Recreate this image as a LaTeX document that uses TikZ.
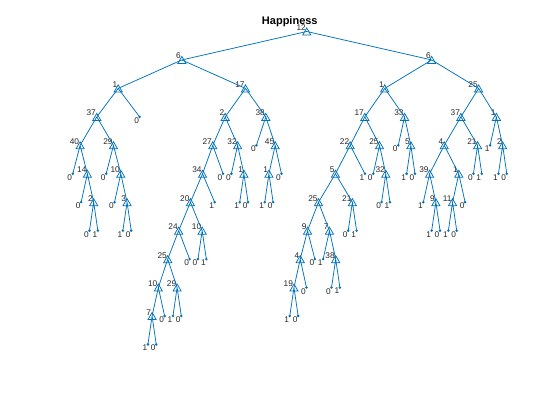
\documentclass[tikz,border=0pt]{standalone}
\usepackage{fontspec}
\setmainfont{Liberation Sans}
\usetikzlibrary{shapes.geometric}
\definecolor{mblue}{rgb}{0,0.447,0.741}
\definecolor{labc}{rgb}{0.15,0.15,0.15}
\tikzset{
 edge/.style={draw=mblue, line width=0.75pt},
 trimark/.style={draw=mblue, line width=0.75pt, regular polygon, regular polygon sides=3, minimum size=9.4pt, inner sep=0pt, yshift=-1.175pt},
 leafdot/.style={fill=mblue, circle, inner sep=0pt, minimum size=2.8pt},
 ilab/.style={anchor=south east, inner sep=0.8pt, text=labc, font=\fontsize{8.3}{9}\selectfont},
 llab/.style={anchor=north east, inner sep=0.5pt, text=labc, font=\fontsize{8.3}{9}\selectfont},
 ttl/.style={font=\bfseries\fontsize{11}{13}\selectfont, text=black, inner sep=0pt},
}
\newcommand\TreeI[4]{\coordinate (#1) at (#2,#3); \node[trimark] at (#1) {}; \node[ilab] at (#1) {#4};}
\newcommand\TreeL[4]{\coordinate (#1) at (#2,#3); \node[leafdot] at (#1) {}; \node[llab] at (#1) {#4};}
\begin{document}
\begin{tikzpicture}[x=8.34615pt, y=-28.45pt]
\useasboundingbox (-8.7226,-1.10721) rectangle (58.3742,13.6555);
\node[ttl] (title) at (26.0,-0.3445) {Happiness};
% internal nodes
\TreeI{r}{28.0317}{0}{12}
\TreeI{n6a}{13.0654}{1}{6}
\TreeI{n6b}{42.9980}{1}{6}
\TreeI{n1a}{5.4375}{2}{1}
\TreeI{n17a}{20.6934}{2}{17}
\TreeI{n1d}{37.3711}{2}{1}
\TreeI{n25d}{48.625}{2}{25}
\TreeI{n37a}{2.875}{3}{37}
\TreeI{n2b}{18.2617}{3}{2}
\TreeI{n38a}{23.125}{3}{38}
\TreeI{n17b}{34.9922}{3}{17}
\TreeI{n33}{39.75}{3}{33}
\TreeI{n37b}{46.5}{3}{37}
\TreeI{n1f}{50.75}{3}{1}
\TreeI{n40}{0.875}{4}{40}
\TreeI{n29a}{4.875}{4}{29}
\TreeI{n27}{16.7734}{4}{27}
\TreeI{n32a}{19.75}{4}{32}
\TreeI{n45}{24.25}{4}{45}
\TreeI{n22}{33.2344}{4}{22}
\TreeI{n25c}{36.75}{4}{25}
\TreeI{n5b}{40.5}{4}{5}
\TreeI{n4b}{44.5}{4}{4}
\TreeI{n21b}{48.5}{4}{21}
\TreeI{n2c}{51.5}{4}{2}
\TreeI{n14}{1.75}{5}{14}
\TreeI{n10a}{5.75}{5}{10}
\TreeI{n34}{15.5469}{5}{34}
\TreeI{n1b}{20.5}{5}{1}
\TreeI{n1c}{23.5}{5}{1}
\TreeI{n5a}{31.4688}{5}{5}
\TreeI{n32b}{37.5}{5}{32}
\TreeI{n39}{42.75}{5}{39}
\TreeI{n1e}{46.25}{5}{1}
\TreeI{n2a}{2.5}{6}{2}
\TreeI{n3}{6.5}{6}{3}
\TreeI{n20}{14.0938}{6}{20}
\TreeI{n25b}{29.4375}{6}{25}
\TreeI{n21a}{33.5}{6}{21}
\TreeI{n9b}{43.5}{6}{9}
\TreeI{n11}{45.5}{6}{11}
\TreeI{n24}{12.6875}{7}{24}
\TreeI{n10c}{15.5}{7}{10}
\TreeI{n9a}{28.125}{7}{9}
\TreeI{n7b}{30.75}{7}{7}
\TreeI{n25a}{11.375}{8}{25}
\TreeI{n4a}{27.25}{8}{4}
\TreeI{n38b}{31.5}{8}{38}
\TreeI{n10b}{10.25}{9}{10}
\TreeI{n29b}{12.5}{9}{29}
\TreeI{n19}{26.5}{9}{19}
\TreeI{n7a}{9.5}{10}{7}
% leaves
\TreeL{L0}{0}{5}{0}
\TreeL{L1}{1}{6}{0}
\TreeL{L2}{2}{7}{0}
\TreeL{L3}{3}{7}{1}
\TreeL{L4}{4}{5}{0}
\TreeL{L5}{5}{6}{0}
\TreeL{L6}{6}{7}{1}
\TreeL{L7}{7}{7}{0}
\TreeL{L8}{8}{3}{0}
\TreeL{L9}{9}{11}{1}
\TreeL{L10}{10}{11}{0}
\TreeL{L11}{11}{10}{0}
\TreeL{L12}{12}{10}{1}
\TreeL{L13}{13}{10}{0}
\TreeL{L14}{14}{8}{0}
\TreeL{L15}{15}{8}{0}
\TreeL{L16}{16}{8}{1}
\TreeL{L17}{17}{6}{1}
\TreeL{L18}{18}{5}{0}
\TreeL{L19}{19}{5}{0}
\TreeL{L20}{20}{6}{1}
\TreeL{L21}{21}{6}{0}
\TreeL{L22}{22}{4}{0}
\TreeL{L23}{23}{6}{1}
\TreeL{L24}{24}{6}{0}
\TreeL{L25}{25}{5}{0}
\TreeL{L26}{26}{10}{1}
\TreeL{L27}{27}{10}{0}
\TreeL{L28}{28}{9}{0}
\TreeL{L29}{29}{8}{0}
\TreeL{L30}{30}{8}{1}
\TreeL{L31}{31}{9}{0}
\TreeL{L32}{32}{9}{1}
\TreeL{L33}{33}{7}{0}
\TreeL{L34}{34}{7}{1}
\TreeL{L35}{35}{5}{1}
\TreeL{L36}{36}{5}{0}
\TreeL{L37}{37}{6}{0}
\TreeL{L38}{38}{6}{1}
\TreeL{L39}{39}{4}{0}
\TreeL{L40}{40}{5}{1}
\TreeL{L41}{41}{5}{0}
\TreeL{L42}{42}{6}{1}
\TreeL{L43}{43}{7}{1}
\TreeL{L44}{44}{7}{0}
\TreeL{L45}{45}{7}{1}
\TreeL{L46}{46}{7}{0}
\TreeL{L47}{47}{6}{0}
\TreeL{L48}{48}{5}{0}
\TreeL{L49}{49}{5}{1}
\TreeL{L50}{50}{4}{1}
\TreeL{L51}{51}{5}{1}
\TreeL{L52}{52}{5}{0}
% edges
\path[edge]
 (r) -- (n6a) (r) -- (n6b)
 (n6a) -- (n1a) (n6a) -- (n17a)
 (n1a) -- (n37a) (n1a) -- (L8)
 (n37a) -- (n40) (n37a) -- (n29a)
 (n40) -- (L0) (n40) -- (n14)
 (n14) -- (L1) (n14) -- (n2a)
 (n2a) -- (L2) (n2a) -- (L3)
 (n29a) -- (L4) (n29a) -- (n10a)
 (n10a) -- (L5) (n10a) -- (n3)
 (n3) -- (L6) (n3) -- (L7)
 (n17a) -- (n2b) (n17a) -- (n38a)
 (n2b) -- (n27) (n2b) -- (n32a)
 (n27) -- (n34) (n27) -- (L18)
 (n34) -- (n20) (n34) -- (L17)
 (n20) -- (n24) (n20) -- (n10c)
 (n24) -- (n25a) (n24) -- (L14)
 (n25a) -- (n10b) (n25a) -- (n29b)
 (n10b) -- (n7a) (n10b) -- (L11)
 (n7a) -- (L9) (n7a) -- (L10)
 (n29b) -- (L12) (n29b) -- (L13)
 (n10c) -- (L15) (n10c) -- (L16)
 (n32a) -- (L19) (n32a) -- (n1b)
 (n1b) -- (L20) (n1b) -- (L21)
 (n38a) -- (L22) (n38a) -- (n45)
 (n45) -- (n1c) (n45) -- (L25)
 (n1c) -- (L23) (n1c) -- (L24)
 (n6b) -- (n1d) (n6b) -- (n25d)
 (n1d) -- (n17b) (n1d) -- (n33)
 (n17b) -- (n22) (n17b) -- (n25c)
 (n22) -- (n5a) (n22) -- (L35)
 (n5a) -- (n25b) (n5a) -- (n21a)
 (n25b) -- (n9a) (n25b) -- (n7b)
 (n9a) -- (n4a) (n9a) -- (L29)
 (n4a) -- (n19) (n4a) -- (L28)
 (n19) -- (L26) (n19) -- (L27)
 (n7b) -- (L30) (n7b) -- (n38b)
 (n38b) -- (L31) (n38b) -- (L32)
 (n21a) -- (L33) (n21a) -- (L34)
 (n25c) -- (L36) (n25c) -- (n32b)
 (n32b) -- (L37) (n32b) -- (L38)
 (n33) -- (L39) (n33) -- (n5b)
 (n5b) -- (L40) (n5b) -- (L41)
 (n25d) -- (n37b) (n25d) -- (n1f)
 (n37b) -- (n4b) (n37b) -- (n21b)
 (n4b) -- (n39) (n4b) -- (n1e)
 (n39) -- (L42) (n39) -- (n9b)
 (n9b) -- (L43) (n9b) -- (L44)
 (n1e) -- (n11) (n1e) -- (L47)
 (n11) -- (L45) (n11) -- (L46)
 (n21b) -- (L48) (n21b) -- (L49)
 (n1f) -- (L50) (n1f) -- (n2c)
 (n2c) -- (L51) (n2c) -- (L52);
\end{tikzpicture}
\end{document}
